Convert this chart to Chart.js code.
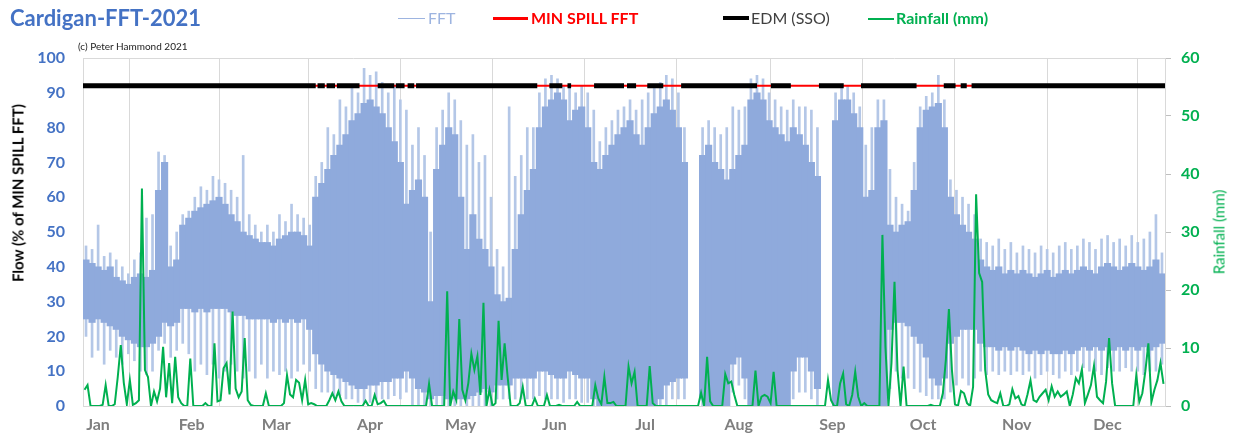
<!DOCTYPE html>
<html>
<head>
<meta charset="utf-8">
<script src="https://cdn.jsdelivr.net/npm/chart.js@4.4.0/dist/chart.umd.min.js"></script>
<style>
  body { margin: 0; background: #fff; }
  #wrap { position: relative; width: 1234px; height: 443px; overflow: hidden; font-family: Lato, "Open Sans", sans-serif; }
  #c { position: absolute; left: 0; top: 0; }
  .t { position: absolute; white-space: nowrap; line-height: 1; }
  .ln { position: absolute; }
</style>
</head>
<body>
<div id="wrap">
  <canvas id="c" width="1234" height="443"></canvas>
  <div class="t" style="left:10px;top:7px;font-size:22px;font-weight:700;color:#4472c4">Cardigan-FFT-2021</div>
  <div class="t" style="left:78px;top:41px;font-size:10px;color:#222">(c) Peter Hammond 2021</div>

  <div class="ln" style="left:398px;top:18px;width:27px;height:1px;background:#9db4e0"></div>
  <div class="t" style="left:428px;top:10px;font-size:16px;color:#9db4e0">FFT</div>
  <div class="ln" style="left:493px;top:17px;width:35px;height:3px;background:#ff0000"></div>
  <div class="t" style="left:531px;top:10px;font-size:16px;font-weight:700;color:#ff0000">MIN SPILL FFT</div>
  <div class="ln" style="left:723px;top:16px;width:26px;height:4px;background:#000"></div>
  <div class="t" style="left:751px;top:10px;font-size:16px;color:#404040">EDM (SSO)</div>
  <div class="ln" style="left:868px;top:18px;width:26px;height:2px;background:#00b050"></div>
  <div class="t" style="left:896px;top:10px;font-size:16px;font-weight:700;color:#00b050">Rainfall (mm)</div>

  <div class="t" style="left:18px;top:193px;font-size:15px;font-weight:700;color:#000;transform:translate(-50%,-50%) rotate(-90deg)">Flow (% of MIN SPILL FFT)</div>
  <div class="t" style="left:1219px;top:232px;font-size:15px;color:#00b050;transform:translate(-50%,-50%) rotate(-90deg)">Rainfall (mm)</div>
</div>
<script>
// month axis (days from 1 Jan)
const months = ["Jan", "Feb", "Mar", "Apr", "May", "Jun", "Jul", "Aug", "Sep", "Oct", "Nov", "Dec"];
const monthStarts = [0, 31, 59, 90, 120, 151, 181, 212, 243, 273, 304, 334];
const lastDay = 358;

// FFT flow, 2-day bins: core band (lo/hi) and extremes (min/max), % of MIN SPILL FFT
const fftLo = [
  25,24,25,24,23,22,20,19,18,17,
  17,18,20,24,23,24,28,28,27,28,
  27,28,28,28,27,26,26,25,25,25,
  25,24,25,24,25,24,25,22,15,12,
  10,9,8,7,6,5,5,6,6,7,
  7,8,8,10,8,5,4,2,3,3,
  2,2,2,2,3,4,5,4,6,6,
  6,8,8,8,8,10,10,9,8,8,
  10,9,8,8,2,0,0,0,0,0,
  0,0,0,0,0,2,6,7,8,8,
  null,null,2,0,0,0,0,12,14,8,
  0,0,0,0,0,0,0,10,14,14,
  10,5,null,null,0,0,0,0,0,0,
  0,0,0,22,24,24,23,20,18,14,
  8,6,8,18,20,22,22,22,18,17,
  17,16,17,16,17,16,15,16,15,16,
  15,15,16,15,16,17,16,17,16,17,
  16,17,16,17,16,17,16,17,18];
const fftHi = [
  42,41,40,39,40,37,36,35,37,38,
  37,39,62,70,40,42,52,54,56,57,
  58,59,60,58,55,53,50,49,48,47,
  47,46,48,49,50,50,49,46,60,64,
  68,72,75,78,82,84,87,88,86,84,
  80,76,70,58,62,65,60,30,68,75,
  80,78,60,45,55,48,45,40,32,30,
  31,45,55,62,68,80,86,88,90,88,
  82,85,86,80,70,68,72,75,78,80,
  82,78,75,80,84,86,88,85,80,70,
  null,null,72,75,70,68,65,68,72,75,
  88,90,88,82,80,78,76,80,78,75,
  70,66,null,null,82,88,88,84,80,60,
  62,80,82,52,50,52,53,62,80,85,
  86,87,80,60,55,52,50,48,42,40,
  39,40,38,39,38,39,38,37,38,39,
  37,38,39,38,39,40,39,38,40,41,
  40,39,40,41,40,39,40,42,38];
const fftMin = [
  20,14,16,12,16,14,12,15,13,10,
  9,10,16,18,14,16,18,15,10,12,
  9,12,8,10,12,10,8,10,8,12,
  8,10,9,10,8,10,12,10,5,4,
  4,3,3,2,2,1,1,1,2,2,
  2,3,2,4,0,0,0,0,0,0,
  0,0,0,0,0,0,0,0,2,2,
  2,2,2,2,2,3,2,2,2,1,
  2,2,1,1,0,0,0,0,0,0,
  0,0,0,0,0,0,0,2,2,2,
  null,null,0,0,0,0,0,4,6,2,
  0,0,0,0,0,0,0,2,4,4,
  2,0,null,null,0,0,0,0,0,0,
  0,0,0,5,10,8,8,5,4,3,
  2,2,2,4,6,8,6,8,10,9,
  10,9,10,9,10,9,10,8,9,10,
  9,8,10,9,10,11,10,10,9,11,
  10,10,11,10,10,9,10,10,12];
const fftMax = [
  46,45,52,43,44,42,40,38,42,44,
  54,55,73,72,46,50,55,56,60,63,
  62,66,65,64,62,60,72,55,52,50,
  52,50,55,53,58,55,54,52,66,70,
  80,78,88,86,92,90,97,95,96,93,
  90,92,88,85,75,80,72,50,80,85,
  90,88,82,75,78,70,72,60,45,40,
  86,66,72,80,80,90,94,95,94,92,
  92,90,92,90,85,76,80,82,85,86,
  88,85,88,90,92,93,95,94,90,80,
  null,null,80,82,80,78,80,86,85,86,
  94,95,94,90,88,86,85,88,86,86,
  85,80,null,null,90,92,92,90,86,75,
  80,88,88,68,60,58,56,70,86,89,
  90,95,88,65,62,60,58,55,48,47,
  46,48,45,47,44,46,45,44,46,45,
  44,46,47,45,46,48,47,45,48,49,
  47,48,46,49,47,48,50,55,44];

// daily rainfall (mm), 1 Jan .. 24 Dec
const rainfall = [
  2.8,3.6,0,0,0,0,0.2,3.6,0,0,0.3,5,10.5,4,0.3,4.5,0.2,0.5,1,37.5,6.2,5,0,2.5,0.8,3,10.2,1.5,7.4,0.5,8.5,
  1.5,0.5,0,0,8.2,0,0,0,0,0.5,0,0,10.8,0.8,1,6.5,7.4,2,16.3,3,1.5,2.5,11.7,1,0.2,0,0,0,
  0,2.2,0,0,0,0,0,0.5,5.3,2,1.5,4.5,4,1,4.5,0.3,0.5,0.3,0,0,0,0,1,2.2,1,2.5,0.8,0,0,0,0,
  0,0,0,0.9,0,0,1.9,0.3,0.5,0.9,0,0,0,0,0,0,0,0,0,0,0,0,0,0,3.8,0,0,0,0,0,
  19.8,0,2.5,1,15,2.8,1,4,9,6.2,8.6,1.9,17.8,0,2.8,0,0.5,14.7,4.5,10.8,5,0,0,0,0.5,3.3,0,0,0,1.3,0,
  0,0,1.9,0,0,0,0.2,0,0,0,0,0,0.7,0,0,0,0,0,3.6,1.3,0.3,5,0.5,0.5,0.7,0,0,0,0,6.8,
  3.9,5.9,0,0,0,0,6.9,0.5,0,0,0,0,0,0,0,0,0,0,0,0,0,0,0,2.3,0,8.5,0.8,0,0,0,0,
  5.5,3.9,4.2,1.9,0,0,0,0,0,0,6.1,0,1.6,1.9,1.6,0.5,5.9,0,0,0,0,0,0,0,0,0,0,0,0,0,0,
  0,0,0,4.5,1,0,0,3.9,5.6,0.3,0,1.9,5.9,1.6,0,0.5,0,0,0,0,0,29.5,10.2,0,7.4,21.4,6.2,0,6.8,0,
  0,0,0,0,0,0,0,0.2,0,0,0,2.2,8,16.7,6.2,0.3,0,2.6,2.2,0.5,0,3.3,36.5,22.9,21.4,6.2,2,1,0.7,0.5,2.2,
  0,0,0.3,2.9,1.3,1.7,0.3,0,2,4.4,1,0.7,1.6,2.2,2.8,1,3.4,1.6,2.5,1.6,2,2.5,0,2,4.8,3.9,6.3,0.5,2,3.6,
  6.9,1.6,1,0.5,4.2,11.7,3.9,0,0,0,0,0,0,0,5.3,0.7,2.2,6,10.8,0.7,2.8,4.5,7.4,3.8];

// EDM spill periods (start day, end day) and plotting level
const edmSpans = [
  [0, 77], [77.6, 80], [80.6, 83.4], [84, 91.5], [97.5, 103], [103.5, 106.4], [107.4, 109.6],
  [110.2, 150.3], [154.3, 158.6], [160.3, 161.5], [169.1, 179], [180, 183], [186.7, 192],
  [197.9, 223], [227.6, 234.2], [243.5, 251.7], [257.4, 275.8], [284.8, 288.7], [290.4, 292.4],
  [294, 358]];
const spillLevel = 92;

const core = [];
const spikes = [];
fftLo.forEach((lo, i) => {
  if (lo === null) return;
  core.push({ x: i * 2 + 1, y: [lo, fftHi[i]] });
  spikes.push({ x: i * 2 + 1, y: [fftMin[i], fftMax[i]] });
});
const rainPts = rainfall.map((v, d) => ({ x: d + 0.5, y: v }));
const edmPts = [];
edmSpans.forEach(([s, e]) => {
  edmPts.push({ x: s, y: spillLevel }, { x: e, y: spillLevel }, { x: e + 0.01, y: null });
});

const frame = {
  id: "frame",
  afterDatasetsDraw(chart) {
    const { ctx, chartArea: a } = chart;
    ctx.save();
    ctx.strokeStyle = "#d9d9d9";
    ctx.lineWidth = 1;
    ctx.beginPath();
    ctx.moveTo(a.left, a.top + 0.5);
    ctx.lineTo(a.right, a.top + 0.5);
    ctx.stroke();
    ctx.restore();
  },
};

const tickFont = { family: "Lato, 'Open Sans', sans-serif", size: 16, weight: "bold" };

new Chart(document.getElementById("c"), {
  type: "bar",
  data: {
    datasets: [
      { label: "FFT max", data: spikes, backgroundColor: "#b4c7e7", barThickness: 2, grouped: false, order: 6 },
      { label: "FFT", data: core, backgroundColor: "#8faadc", barThickness: 6.5, grouped: false, order: 5 },
      { type: "line", label: "MIN SPILL FFT", data: [{ x: 0, y: spillLevel }, { x: lastDay, y: spillLevel }],
        borderColor: "#ff0000", borderWidth: 2, pointRadius: 0, order: 4 },
      { type: "line", label: "EDM (SSO)", data: edmPts, borderColor: "#000", borderWidth: 5,
        pointRadius: 0, spanGaps: false, borderCapStyle: "butt", order: 3 },
      { type: "line", label: "Rainfall (mm)", data: rainPts, yAxisID: "y2", borderColor: "#00b050",
        borderWidth: 2, pointRadius: 0, tension: 0, order: 1 },
    ],
  },
  options: {
    responsive: false,
    animation: false,
    layout: { padding: { top: 58, left: 0, right: 0, bottom: 0 } },
    plugins: { legend: { display: false }, tooltip: { enabled: false } },
    scales: {
      x: {
        type: "linear", min: 0, max: lastDay, offset: false,
        afterBuildTicks: (s) => { s.ticks = monthStarts.map((v) => ({ value: v })); },
        ticks: {
          callback: (v) => months[monthStarts.indexOf(v)],
          color: "#7f7f7f", font: tickFont, labelOffset: 15, padding: 9,
          autoSkip: false, maxRotation: 0,
        },
        grid: { color: "#d9d9d9", drawTicks: false },
        border: { color: "#d9d9d9" },
        afterFit: (s) => { s.height = 37; },
      },
      y: {
        position: "left", min: 0, max: 100,
        ticks: { stepSize: 10, color: "#4472c4", font: tickFont, padding: 18 },
        grid: { display: false, drawTicks: false },
        border: { color: "#d9d9d9" },
        afterFit: (s) => { s.width = 83; },
      },
      y2: {
        position: "right", min: 0, max: 60,
        ticks: { stepSize: 10, color: "#00b050", font: tickFont, padding: 10 },
        grid: { drawOnChartArea: false, tickLength: 6, color: "#bfbfbf" },
        border: { color: "#d9d9d9" },
        afterFit: (s) => { s.width = 69; },
      },
    },
  },
  plugins: [frame],
});
</script>
</body>
</html>
